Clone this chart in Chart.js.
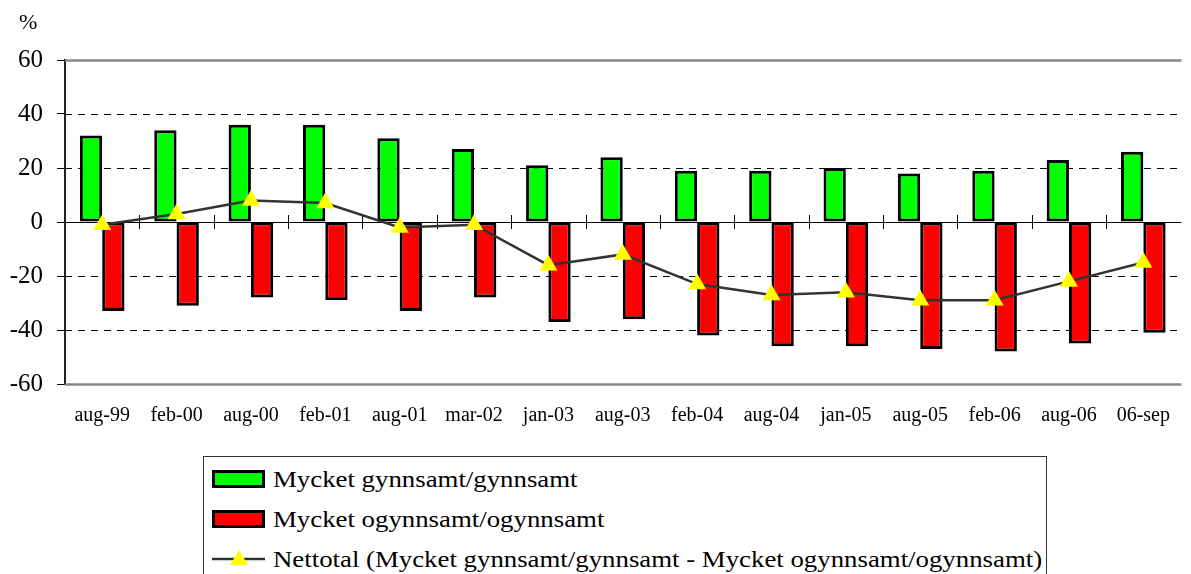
<!DOCTYPE html>
<html>
<head>
<meta charset="utf-8">
<script src="https://cdn.jsdelivr.net/npm/chart.js@4.4.1/dist/chart.umd.min.js"></script>
<style>
  html, body { margin: 0; padding: 0; background: #fff; }
  body { width: 1191px; height: 574px; position: relative; overflow: hidden; font-family: "Liberation Serif", "Times New Roman", serif; }
  #chart { position: absolute; left: 0; top: 0; }
  #unit { position: absolute; left: 19px; top: 9px; font-size: 22px; color: #000; }
  #legend { position: absolute; left: 203px; top: 456px; width: 844px; height: 140px; border: 1px solid #333; box-sizing: border-box; background: #fff; }
  .row { position: absolute; left: 8px; height: 30px; display: flex; align-items: center; }
  .sw { width: 53px; height: 18px; box-sizing: border-box; border: 3px solid #000; }
  .txt { font-size: 24px; margin-left: 8px; white-space: nowrap; transform: scaleX(1.117); transform-origin: left center; color: #000; }
</style>
</head>
<body>
<canvas id="chart" width="1191" height="574"></canvas>
<div id="unit">%</div>
<div id="legend"></div>
<script>
const categories = ["aug-99","feb-00","aug-00","feb-01","aug-01","mar-02","jan-03","aug-03","feb-04","aug-04","jan-05","aug-05","feb-06","aug-06","06-sep"];
const favourable = [32, 34, 36, 36, 31, 27, 21, 24, 19, 19, 20, 18, 19, 23, 26];
const unfavourable = [-33, -31, -28, -29, -33, -28, -37, -36, -42, -46, -46, -47, -48, -45, -41];
const net = [-1, 3, 8, 7, -2, -1, -16, -12, -23, -27, -26, -29, -29, -22, -15];
const yTicks = [-60, -40, -20, 0, 20, 40, 60];
const seriesLabels = [
  "Mycket gynnsamt/gynnsamt",
  "Mycket ogynnsamt/ogynnsamt",
  "Nettotal (Mycket gynnsamt/gynnsamt - Mycket ogynnsamt/ogynnsamt)"
];

const gridPlugin = {
  id: 'customGrid',
  beforeDatasetsDraw(chart) {
    const ctx = chart.ctx;
    const ys = chart.scales.y, xs = chart.scales.x;
    const area = chart.chartArea;
    ctx.save();
    yTicks.forEach(v => {
      const y = Math.round(ys.getPixelForValue(v)) + 0.5;
      ctx.beginPath();
      if (v === 0) {
        ctx.setLineDash([]); ctx.strokeStyle = '#000'; ctx.lineWidth = 1;
      } else if (Math.abs(v) === 60) {
        ctx.setLineDash([]); ctx.strokeStyle = '#888'; ctx.lineWidth = 2.5;
      } else {
        ctx.setLineDash([7, 6]); ctx.strokeStyle = '#000'; ctx.lineWidth = 1;
      }
      ctx.moveTo(area.left, y);
      ctx.lineTo(area.right + 1, y);
      ctx.stroke();
    });
    ctx.setLineDash([]);
    ctx.strokeStyle = '#000';
    ctx.lineWidth = 1;
    const y0 = ys.getPixelForValue(0);
    for (let i = 1; i < categories.length; i++) {
      const x = Math.round((xs.getPixelForValue(i - 1) + xs.getPixelForValue(i)) / 2) + 0.5;
      ctx.beginPath();
      ctx.moveTo(x, y0 - 7);
      ctx.lineTo(x, y0 + 7);
      ctx.stroke();
    }
    ctx.restore();
  }
};

const serif = "'Liberation Serif', 'Times New Roman', serif";

const chart = new Chart(document.getElementById('chart'), {
  data: {
    labels: categories,
    datasets: [
      { type: 'bar', label: seriesLabels[0], data: favourable, backgroundColor: '#00FF00', borderColor: '#000', borderWidth: 3, borderSkipped: false, order: 2, categoryPercentage: 0.6, barPercentage: 1 },
      { type: 'bar', label: seriesLabels[1], data: unfavourable, backgroundColor: '#FF0000', borderColor: '#000', borderWidth: 3, borderSkipped: false, order: 2, categoryPercentage: 0.6, barPercentage: 1 },
      { type: 'line', label: seriesLabels[2], data: net, borderColor: '#333', borderWidth: 2.5, tension: 0, pointStyle: 'triangle', pointRadius: 10.5, pointHoverRadius: 10.5, pointBackgroundColor: '#FFFF00', pointBorderColor: '#FFFF00', pointBorderWidth: 0, order: 1 }
    ]
  },
  options: {
    responsive: false,
    animation: false,
    events: [],
    layout: { padding: { top: 60, right: 1, left: 0, bottom: 0 } },
    plugins: { legend: { display: false }, tooltip: { enabled: false } },
    scales: {
      x: {
        grid: { display: false, drawTicks: false },
        border: { display: false },
        ticks: { color: '#000', padding: 20, maxRotation: 0, autoSkip: false, font: { family: serif, size: 20 } },
        afterFit(s) { s.height = 190; }
      },
      y: {
        min: -60, max: 60,
        afterBuildTicks(s) { s.ticks = yTicks.map(v => ({ value: v })); },
        grid: { drawOnChartArea: false, drawTicks: true, tickLength: 8, color: '#000', tickColor: '#000' },
        border: { display: true, color: '#222', width: 2 },
        ticks: { color: '#000', padding: 14, font: { family: serif, size: 25 } },
        afterFit(s) { s.width = 65; }
      }
    }
  },
  plugins: [gridPlugin]
});

const legend = document.getElementById('legend');
const rowTops = [7, 47, 87];
chart.data.datasets.forEach((ds, i) => {
  const row = document.createElement('div');
  row.className = 'row';
  row.style.top = rowTops[i] + 'px';
  let sw;
  if (ds.type === 'bar') {
    sw = document.createElement('div');
    sw.className = 'sw';
    sw.style.background = ds.backgroundColor;
  } else {
    sw = document.createElementNS('http://www.w3.org/2000/svg', 'svg');
    sw.setAttribute('width', '53'); sw.setAttribute('height', '24');
    sw.innerHTML = '<line x1="0" y1="12" x2="53" y2="12" stroke="' + ds.borderColor + '" stroke-width="2.5"/>' +
      '<polygon points="27,3 36,18 18,18" fill="' + ds.pointBackgroundColor + '"/>';
  }
  row.appendChild(sw);
  const t = document.createElement('span');
  t.className = 'txt';
  t.textContent = ds.label;
  row.appendChild(t);
  legend.appendChild(row);
});
</script>
</body>
</html>
